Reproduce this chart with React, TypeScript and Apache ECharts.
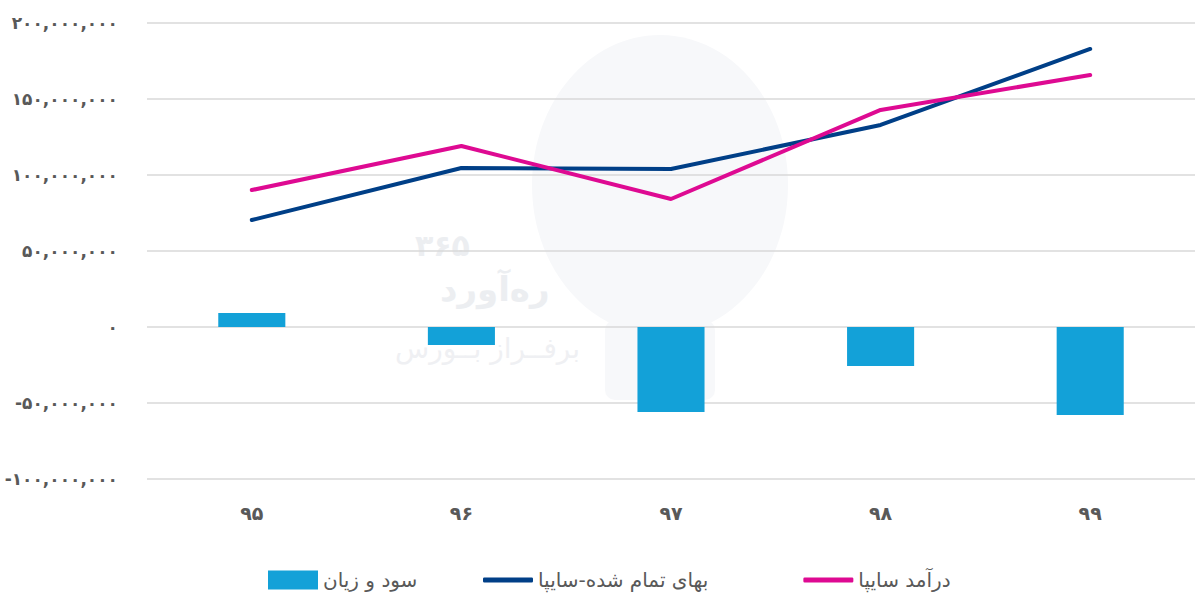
import React, { useEffect, useRef } from "react";
import * as echarts from "echarts";

const categories = ["۹۵", "۹۶", "۹۷", "۹۸", "۹۹"];
const profitLoss = [9200000, -11800000, -55900000, -25700000, -57900000];
const costOfSales = [70400000, 104600000, 104000000, 132900000, 182900000];
const revenue = [90100000, 119100000, 84200000, 142800000, 165800000];

const seriesNames = ["سود و زیان", "بهای تمام شده-سایپا", "درآمد سایپا"];

const faDigits = "۰۱۲۳۴۵۶۷۸۹";
const toFa = (v: number) =>
  v.toLocaleString("en-US").replace(/[0-9]/g, (d) => faDigits[Number(d)]);

const FONT = "DejaVu Sans";

export default function App() {
  const ref = useRef<HTMLDivElement>(null);
  useEffect(() => {
    if (!ref.current) return;
    const chart = echarts.init(ref.current, undefined, { renderer: "svg" });
    const legendText = { fontSize: 20, color: "#595959", fontFamily: FONT };
    chart.setOption({
      animation: false,
      backgroundColor: "#ffffff",
      textStyle: { fontFamily: FONT },
      graphic: [
        {
          type: "ellipse",
          z: -10,
          shape: { cx: 660, cy: 185, rx: 128, ry: 150 },
          style: { fill: "#f7f8fa" },
          silent: true,
        },
        {
          type: "rect",
          z: -10,
          shape: { x: 605, y: 320, width: 110, height: 80, r: 10 },
          style: { fill: "#f7f8fa" },
          silent: true,
        },
        {
          type: "text",
          z: -9,
          left: 415,
          top: 230,
          style: { text: "۳۶۵", fill: "#eceef1", font: "bold 30px " + FONT },
          silent: true,
        },
        {
          type: "text",
          z: -9,
          left: 440,
          top: 272,
          style: { text: "ره‌آورد", fill: "#eceef1", font: "bold 34px " + FONT },
          silent: true,
        },
        {
          type: "text",
          z: -9,
          left: 395,
          top: 334,
          style: { text: "برفــراز بــورس", fill: "#eff0f3", font: "28px " + FONT },
          silent: true,
        },
      ],
      grid: { left: 147, right: -3, top: 23, bottom: 116, containLabel: false },
      legend: [
        {
          top: 565,
          left: 263,
          data: [{ name: seriesNames[0], icon: "rect" }],
          itemWidth: 50,
          itemHeight: 19,
          textStyle: legendText,
        },
        {
          top: 565,
          left: 478,
          data: [
            { name: seriesNames[1], icon: "roundRect" },
            { name: seriesNames[2], icon: "roundRect" },
          ],
          itemWidth: 50,
          itemHeight: 5,
          itemGap: 95,
          textStyle: legendText,
        },
      ],
      xAxis: {
        type: "category",
        data: categories,
        axisLine: { show: false },
        axisTick: { show: false },
        axisLabel: {
          margin: 24,
          fontSize: 19,
          fontWeight: "bold",
          color: "#595959",
          fontFamily: FONT,
        },
      },
      yAxis: {
        type: "value",
        min: -100000000,
        max: 200000000,
        interval: 50000000,
        axisLine: { show: false },
        axisTick: { show: false },
        splitLine: { lineStyle: { color: "#d9d9d9", width: 1.5 } },
        axisLabel: {
          margin: 29,
          fontSize: 17,
          fontWeight: "bold",
          color: "#595959",
          fontFamily: FONT,
          formatter: (v: number) => toFa(v),
        },
      },
      series: [
        {
          name: seriesNames[0],
          type: "bar",
          data: profitLoss,
          barWidth: "32%",
          itemStyle: { color: "#13A1D8" },
        },
        {
          name: seriesNames[1],
          type: "line",
          data: costOfSales,
          symbol: "none",
          lineStyle: { color: "#003F87", width: 4, cap: "round" },
          itemStyle: { color: "#003F87" },
        },
        {
          name: seriesNames[2],
          type: "line",
          data: revenue,
          symbol: "none",
          lineStyle: { color: "#DE0A92", width: 4, cap: "round" },
          itemStyle: { color: "#DE0A92" },
        },
      ],
    });
    return () => chart.dispose();
  }, []);
  return <div ref={ref} style={{ width: 1195, height: 595, position: "absolute", left: 0, top: 0 }} />;
}
